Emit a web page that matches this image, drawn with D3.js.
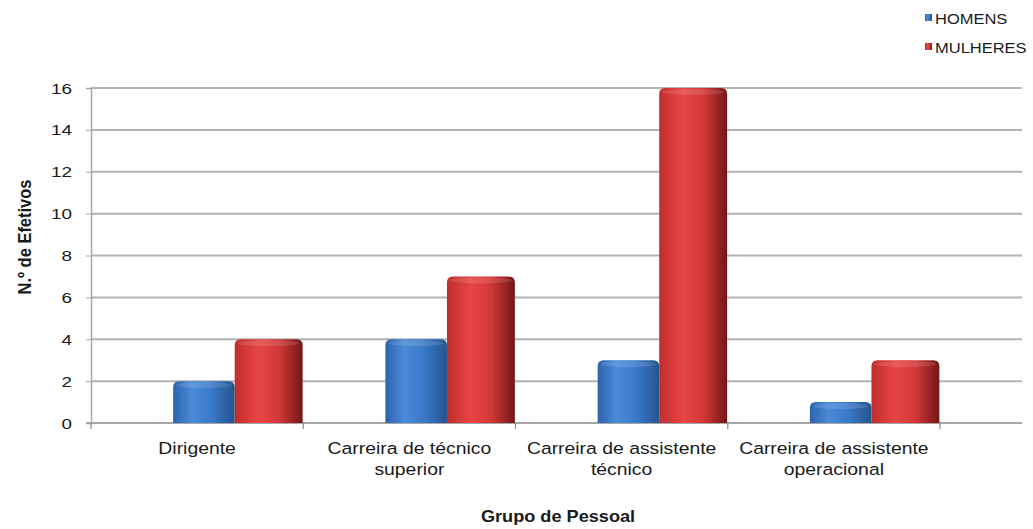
<!DOCTYPE html>
<html><head><meta charset="utf-8">
<script src="https://cdn.jsdelivr.net/npm/d3@7/dist/d3.min.js"></script>
<style>body{margin:0;background:#fff;font-family:"Liberation Sans",Arial,sans-serif}</style>
</head><body><svg id="c" width="1033" height="529"></svg>
<script>
const categories = [["Dirigente"],["Carreira de técnico","superior"],["Carreira de assistente","técnico"],["Carreira de assistente","operacional"]];
const seriesNames = ["HOMENS","MULHERES"];
const homens = [2,4,3,1];
const mulheres = [4,7,16,3];
const yTicks = [0,2,4,6,8,10,12,14,16];

(function(){
const svg = d3.select("#c");
const defs = svg.append("defs");
function grad(id, stops){
  const g = defs.append("linearGradient").attr("id",id).attr("x1","0").attr("x2","1").attr("y1","0").attr("y2","0");
  stops.forEach(s=>g.append("stop").attr("offset",s[0]).attr("stop-color",s[1]));
}
grad("gb",[[0,"#2d63ad"],[0.3,"#4a8ad8"],[0.6,"#3c7bcb"],[1,"#24548f"]]);
grad("gr",[[0,"#c02d2d"],[0.35,"#e84545"],[0.65,"#d23838"],[1,"#741616"]]);

const pLeft=91, pRight=940, gridRight=1022, pTop=88, pBottom=423;
const x = d3.scaleBand().domain(d3.range(categories.length)).range([pLeft,pRight]);
const y = d3.scaleLinear().domain([0,16]).range([pBottom,pTop]);

function stext(g, tx, ty, sx, str, size, anchor, weight){
  return g.append("text").attr("transform",`translate(${tx},${ty}) scale(${sx},1)`)
    .attr("text-anchor",anchor).attr("font-size",size).attr("font-weight",weight||"normal")
    .attr("fill","#1a1a1a").text(str);
}

svg.append("g").selectAll("line").data(yTicks.filter(d=>d>0)).join("line")
  .attr("x1",pLeft).attr("x2",gridRight).attr("y1",d=>y(d)).attr("y2",d=>y(d))
  .attr("stroke","#b3b3b3").attr("stroke-width",2);

const ya = svg.append("g").attr("transform",`translate(${pLeft},0)`).call(d3.axisLeft(y).tickValues(yTicks).tickSize(5).tickFormat(""));
ya.select(".domain").attr("stroke","#a6a6a6").attr("stroke-width",1.5);
ya.selectAll(".tick line").attr("stroke","#a6a6a6");
yTicks.forEach(v=>stext(svg, 72, y(v)+5.5, 1.22, v, 15.5, "end"));

svg.append("line").attr("x1",pLeft-5).attr("x2",gridRight).attr("y1",pBottom).attr("y2",pBottom).attr("stroke","#a6a6a6").attr("stroke-width",2);
const bounds = categories.map((c,i)=>x(i)).concat([pRight]);
svg.append("g").selectAll("line").data(bounds).join("line")
  .attr("x1",d=>d).attr("x2",d=>d).attr("y1",pBottom).attr("y2",pBottom+6).attr("stroke","#8a8a8a").attr("stroke-width",1.2);

function cyl(x0,w,yv,fill){
  const yt=y(yv), r=6;
  const p=`M${x0},${pBottom}L${x0},${yt+r}Q${x0},${yt} ${x0+r},${yt}L${x0+w-r},${yt}Q${x0+w},${yt} ${x0+w},${yt+r}L${x0+w},${pBottom}Z`;
  svg.append("path").attr("d",p).attr("fill",fill);
  svg.append("ellipse").attr("cx",x0+w/2).attr("cy",yt+4).attr("rx",w/2-3).attr("ry",3).attr("fill","#fff").attr("opacity",0.12);
}
const bw = x.bandwidth();
categories.forEach((c,i)=>{
  const bx = x(i);
  cyl(bx+bw*0.387, bw*0.29, homens[i], "url(#gb)");
  cyl(bx+bw*0.677, bw*0.32, mulheres[i], "url(#gr)");
});

categories.forEach((c,i)=>{
  c.forEach((l,j)=>stext(svg, x(i)+bw/2, 454+j*21, 1.14, l, 17, "middle"));
});

stext(svg, 558, 522, 1.1, "Grupo de Pessoal", 16.5, "middle", "bold");
svg.append("text").attr("transform","translate(31,237) rotate(-90) scale(1,1.12)").attr("text-anchor","middle")
  .attr("font-size",16.5).attr("font-weight","bold").attr("fill","#1a1a1a").text("N.º de Efetivos");

const lg = svg.append("g");
[["url(#gb)",24],["url(#gr)",53]].forEach((d,i)=>{
  lg.append("rect").attr("x",925).attr("y",d[1]-10).attr("width",7).attr("height",7).attr("fill",d[0]);
  stext(lg, 935, d[1], 1.1, seriesNames[i], 15, "start");
});
})();
</script></body></html>
